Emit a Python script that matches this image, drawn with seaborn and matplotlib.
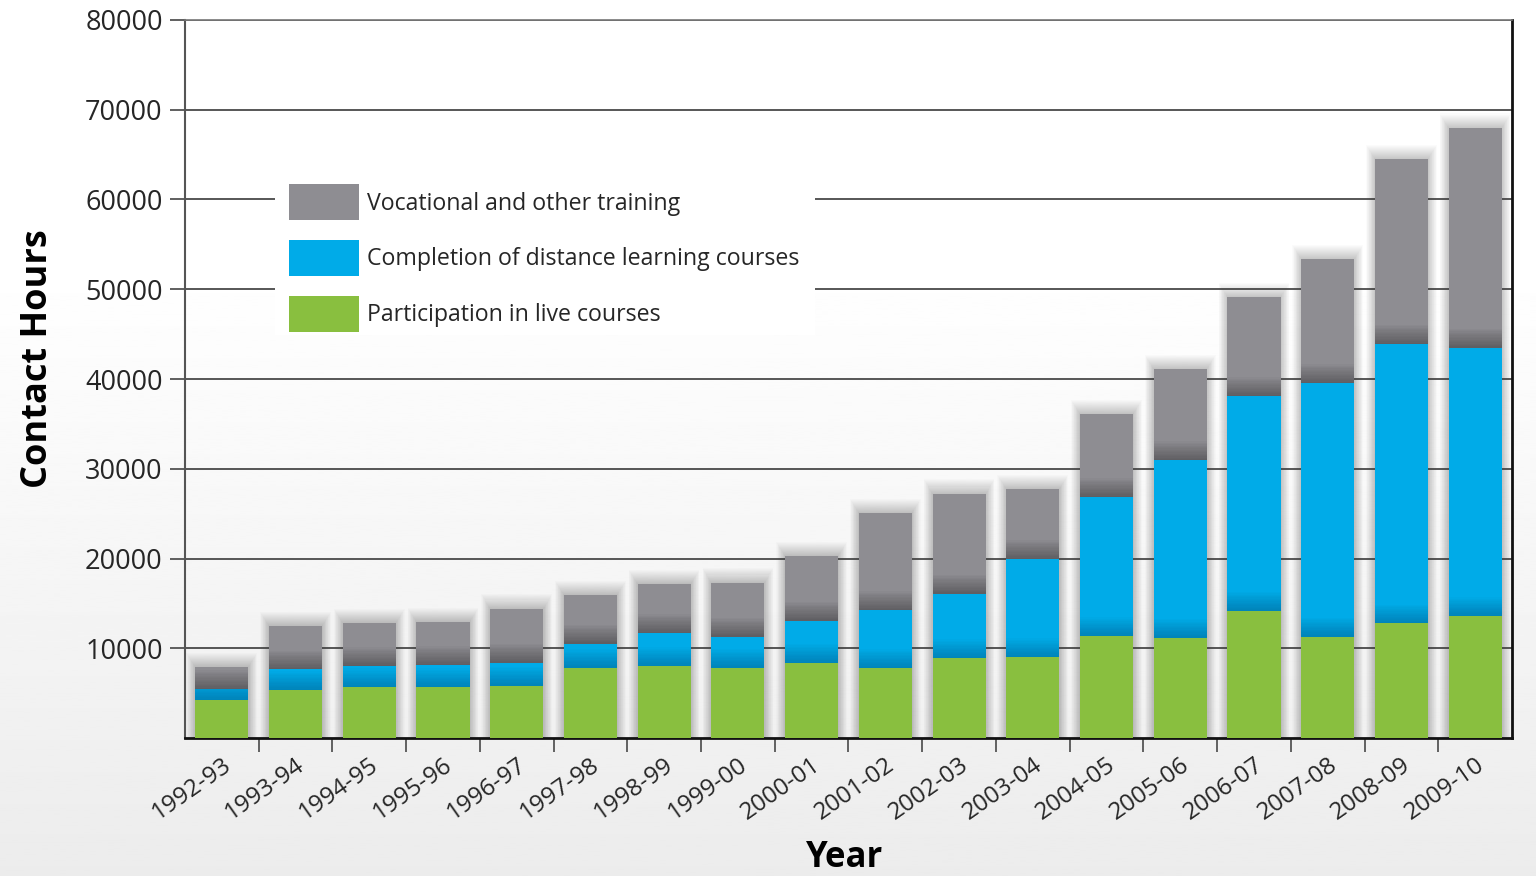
import numpy as np
import pandas as pd
import matplotlib.pyplot as plt
import seaborn as sns
from matplotlib.patches import Patch, Rectangle

# ==========================================
# Data (contact hours)
# ==========================================

years = ["1992-93", "1993-94", "1994-95", "1995-96", "1996-97", "1997-98",
         "1998-99", "1999-00", "2000-01", "2001-02", "2002-03", "2003-04",
         "2004-05", "2005-06", "2006-07", "2007-08", "2008-09", "2009-10"]

live_courses = [4230, 5350, 5650, 5650, 5830, 7830, 8020, 7830, 8360,
                7770, 8880, 8990, 11360, 11180, 14190, 11310, 12760, 13590]

distance_learning = [1230, 2300, 2370, 2480, 2560, 2680, 3680, 3460, 4710,
                     6460, 7200, 10950, 15490, 19760, 23910, 28240, 31150, 29910]

vocational_training = [2420, 4790, 4790, 4790, 6010, 5390, 5460, 6010, 7210,
                       10810, 11140, 7770, 9250, 10170, 11040, 13820, 20560, 24470]

series_labels = ["Vocational and other training",
                 "Completion of distance learning courses",
                 "Participation in live courses"]

gray = "#8e8d92"
blue = "#00abe8"
green = "#89bf3f"

df = pd.DataFrame({
    "Year": years,
    "Live": live_courses,
    "Distance": distance_learning,
    "Vocational": vocational_training,
})
df["LiveDist"] = df["Live"] + df["Distance"]
df["Total"] = df["LiveDist"] + df["Vocational"]

# ==========================================
# Figure
# ==========================================

sns.set_theme(style="white")
plt.rcParams["font.family"] = ["Open Sans", "DejaVu Sans"]

fig = plt.figure(figsize=(15.36, 8.76), dpi=100)

# soft background gradient (white at top, light gray at bottom)
bg = fig.add_axes([0, 0, 1, 1], zorder=-10)
t = np.linspace(0, 1, 300)
shade = 1 - 0.075 * np.clip((t - 0.3) / 0.7, 0, 1)
bg.imshow(shade[:, None], cmap="gray", vmin=0, vmax=1, aspect="auto",
          extent=[0, 1, 0, 1])
bg.axis("off")

ax = fig.add_axes([0.1204, 0.1575, 0.8640, 0.8197])
ax.set_facecolor("none")

x = np.arange(len(years))
bar_w = 0.72

# soft glow behind bars
for k in range(1, 15):
    ax.bar(x, df["Total"] + k * 115, width=bar_w + k * 0.017,
           color="black", alpha=0.015, linewidth=0, zorder=0.2)

# stacked bars
sns.barplot(data=df, x="Year", y="Total", color=gray, width=bar_w,
            saturation=1, errorbar=None, linewidth=0, zorder=3, ax=ax)
sns.barplot(data=df, x="Year", y="LiveDist", color=blue, width=bar_w,
            saturation=1, errorbar=None, linewidth=0, zorder=3.1, ax=ax)
sns.barplot(data=df, x="Year", y="Live", color=green, width=bar_w,
            saturation=1, errorbar=None, linewidth=0, zorder=3.2, ax=ax)

# darker band at the bottom of the gray and blue segments
for k in range(1, 15):
    ax.bar(x, np.minimum(k * 150, df["Vocational"]), bottom=df["LiveDist"],
           width=bar_w, color="black", alpha=0.022, linewidth=0, zorder=3.05)
    ax.bar(x, np.minimum(k * 150, df["Distance"]), bottom=df["Live"],
           width=bar_w, color="#003a5a", alpha=0.022, linewidth=0, zorder=3.15)

# ==========================================
# Axes styling
# ==========================================

ax.set_xlim(-0.5, len(years) - 0.5)
ax.set_ylim(0, 80000)

yticks = list(range(10000, 80001, 10000))
ax.set_yticks(yticks, labels=[str(v) for v in yticks], fontsize=19.5)
ax.yaxis.grid(True, color="#3a3a3a", linewidth=1.2)
ax.xaxis.grid(False)
ax.set_axisbelow(True)
ax.tick_params(axis="y", direction="out", length=11, width=1.2,
               color="#444444", pad=5, left=True)

ax.set_xticks(x, labels=years, rotation=35, ha="right",
              rotation_mode="anchor", fontsize=17.5)
ax.set_xticks(x[:-1] + 0.5, minor=True)
ax.tick_params(axis="x", which="major", length=0, pad=11)
ax.tick_params(axis="x", which="minor", direction="out", length=10,
               width=1.3, color="#555555", bottom=True)

ax.spines["left"].set_color("#555555")
ax.spines["left"].set_linewidth(1.5)
ax.spines["top"].set_color("#777777")
ax.spines["top"].set_linewidth(1.2)
ax.spines["bottom"].set_color("#111111")
ax.spines["bottom"].set_linewidth(2)
ax.spines["right"].set_color("#111111")
ax.spines["right"].set_linewidth(2)

ax.set_ylabel("Contact Hours", fontsize=26, fontweight="bold", color="black")
ax.yaxis.set_label_coords(-0.097, 0.528)
ax.set_xlabel("Year", fontsize=25, fontweight="bold", color="black")
ax.xaxis.set_label_coords(0.497, -0.142)

# ==========================================
# Legend on a white box
# ==========================================

ax.add_patch(Rectangle((0.0678, 0.5613), 0.407, 0.216, transform=ax.transAxes,
                       facecolor="white", edgecolor="none", zorder=2))

handles = [Patch(facecolor=gray, linewidth=0),
           Patch(facecolor=blue, linewidth=0),
           Patch(facecolor=green, linewidth=0)]
leg = ax.legend(handles, series_labels, loc="upper left",
                bbox_to_anchor=(0.0784, 0.7716), frameon=False, fontsize=16.7,
                handlelength=3.0, handleheight=2.035, labelspacing=0.84,
                handletextpad=0.35, borderpad=0, borderaxespad=0)
leg.set_zorder(5)

plt.savefig("out.png", dpi=100)
